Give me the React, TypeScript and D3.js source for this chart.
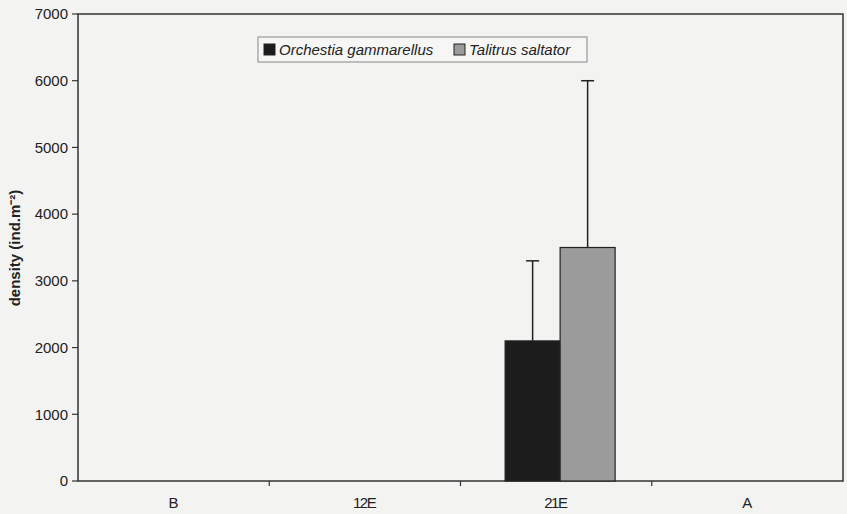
import { useEffect, useRef } from 'react';
import * as d3 from 'd3';

const categories = ['B', '12E', '21E', 'A'];
const orchestia = [0, 0, 2100, 0];
const orchestiaSd = [0, 0, 1200, 0];
const talitrus = [0, 0, 3500, 0];
const talitrusSd = [0, 0, 2500, 0];
const yTicks = [0, 1000, 2000, 3000, 4000, 5000, 6000, 7000];

const W = 847;
const H = 514;

export default function App() {
  const svgRef = useRef<SVGSVGElement>(null);

  useEffect(() => {
    document.body.style.margin = '0';
    if (!svgRef.current) return;

    const margin = { top: 14, right: 4, bottom: 33, left: 78 };
    const innerWidth = W - margin.left - margin.right;
    const innerHeight = H - margin.top - margin.bottom;
    const font = 'Liberation Sans, Arial, sans-serif';
    const axisColor = '#333';

    const svg = d3.select(svgRef.current);
    svg.selectAll('*').remove();

    svg.append('rect').attr('width', W).attr('height', H).attr('fill', '#f3f3f2');

    const g = svg.append('g').attr('transform', `translate(${margin.left},${margin.top})`);

    const x0 = d3.scaleBand().domain(categories).range([0, innerWidth]).paddingInner(0).paddingOuter(0);
    const x1 = d3.scaleBand().domain(['orchestia', 'talitrus']).range([0, 110]);
    const y = d3.scaleLinear().domain([0, 7000]).range([innerHeight, 0]);

    // plot frame
    g.append('rect')
      .attr('width', innerWidth)
      .attr('height', innerHeight)
      .attr('fill', 'none')
      .attr('stroke', axisColor)
      .attr('stroke-width', 1.5);

    // y ticks
    yTicks.forEach(t => {
      g.append('line')
        .attr('x1', -6).attr('x2', 0)
        .attr('y1', y(t)).attr('y2', y(t))
        .attr('stroke', axisColor).attr('stroke-width', 1.2);
      g.append('text')
        .attr('x', -10).attr('y', y(t))
        .attr('dy', '0.35em')
        .attr('text-anchor', 'end')
        .style('font-family', font)
        .style('font-size', '15px')
        .style('fill', '#222')
        .text(t);
    });

    // x category separators
    categories.forEach((c, i) => {
      const xs = x0(c)!;
      if (i > 0) {
        g.append('line')
          .attr('x1', xs).attr('x2', xs)
          .attr('y1', innerHeight).attr('y2', innerHeight + 5)
          .attr('stroke', axisColor).attr('stroke-width', 1.2);
      }
      g.append('text')
        .attr('x', xs + x0.bandwidth() / 2)
        .attr('y', innerHeight + 27)
        .attr('text-anchor', 'middle')
        .attr('textLength', c.length * 8)
        .style('font-family', font)
        .style('font-size', '15px')
        .style('fill', '#222')
        .text(c);
    });

    const series = [
      { key: 'orchestia', values: orchestia, sd: orchestiaSd, fill: '#1c1c1c' },
      { key: 'talitrus', values: talitrus, sd: talitrusSd, fill: '#9b9b9b' },
    ];

    categories.forEach((c, i) => {
      const gx = x0(c)! + (x0.bandwidth() - 110) / 2 + 4;
      series.forEach(s => {
        const v = s.values[i];
        if (v <= 0) return;
        const bx = gx + x1(s.key)!;
        const bw = x1.bandwidth();
        const cx = bx + bw / 2;
        const top = y(v + s.sd[i]);
        g.append('line')
          .attr('x1', cx).attr('x2', cx)
          .attr('y1', y(v)).attr('y2', top)
          .attr('stroke', '#222').attr('stroke-width', 1.5);
        g.append('line')
          .attr('x1', cx - 6.5).attr('x2', cx + 6.5)
          .attr('y1', top).attr('y2', top)
          .attr('stroke', '#222').attr('stroke-width', 1.5);
        g.append('rect')
          .attr('x', bx).attr('y', y(v))
          .attr('width', bw).attr('height', innerHeight - y(v))
          .attr('fill', s.fill)
          .attr('stroke', '#222').attr('stroke-width', 1.2);
      });
    });

    // y label
    svg.append('text')
      .attr('transform', `translate(20,248) rotate(-90)`)
      .attr('text-anchor', 'middle')
      .style('font-family', font)
      .style('font-size', '15px')
      .style('font-weight', 'bold')
      .style('fill', '#222')
      .text('density (ind.m⁻²)');

    // legend
    const legend = svg.append('g').attr('transform', 'translate(258,37)');
    legend.append('rect')
      .attr('width', 329).attr('height', 25)
      .attr('fill', '#f6f6f5')
      .attr('stroke', '#888').attr('stroke-width', 1);
    [
      { label: 'Orchestia gammarellus', fill: '#1c1c1c', x: 6 },
      { label: 'Talitrus saltator', fill: '#9b9b9b', x: 196 },
    ].forEach(item => {
      legend.append('rect')
        .attr('x', item.x).attr('y', 7)
        .attr('width', 11).attr('height', 11)
        .attr('fill', item.fill)
        .attr('stroke', '#222').attr('stroke-width', 1);
      legend.append('text')
        .attr('x', item.x + 15).attr('y', 17.5)
        .style('font-family', font)
        .style('font-size', '15px')
        .style('font-style', 'italic')
        .style('fill', '#222')
        .text(item.label);
    });
  }, []);

  return <svg ref={svgRef} width={W} height={H} style={{ display: 'block' }} />;
}
